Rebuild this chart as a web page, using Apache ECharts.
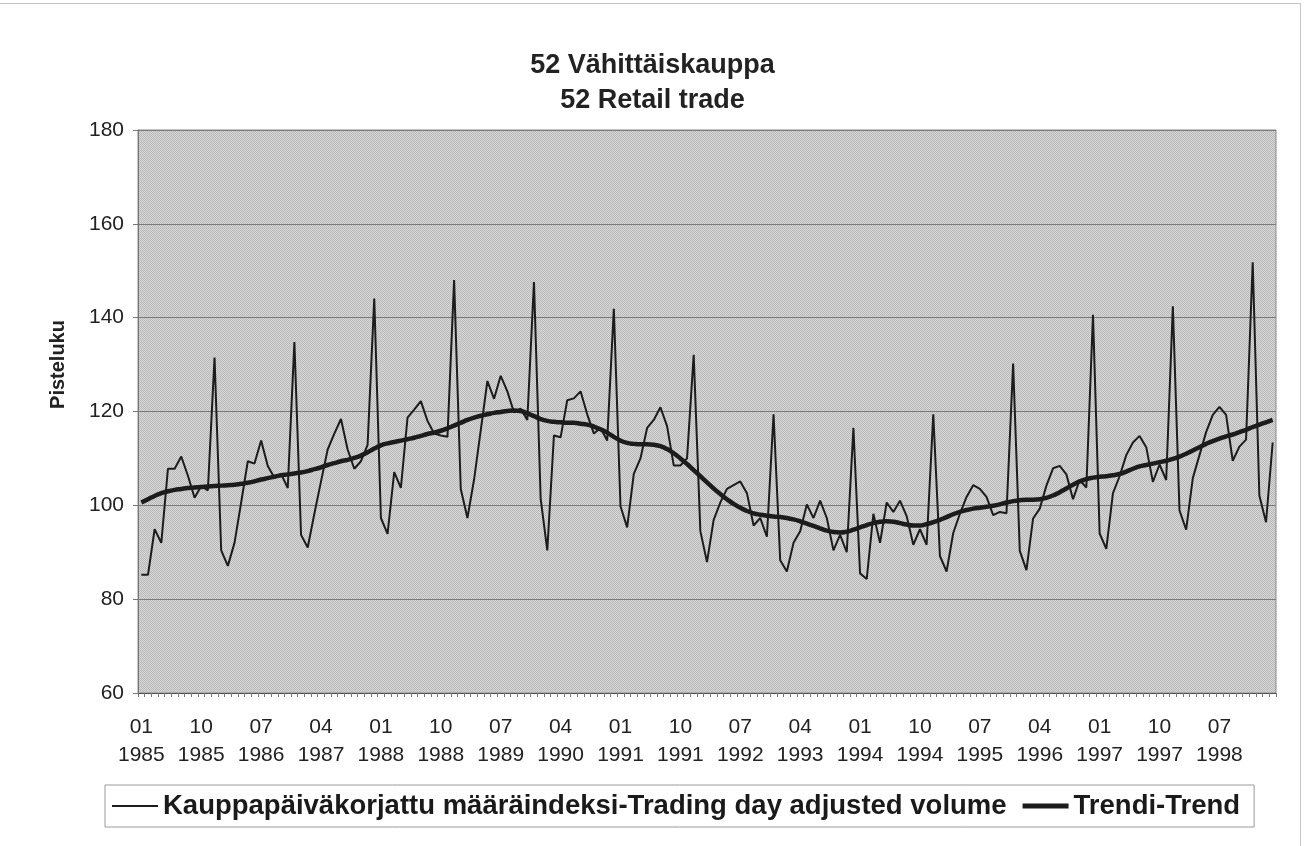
<!DOCTYPE html>
<html>
<head>
<meta charset="utf-8">
<script src="https://cdn.jsdelivr.net/npm/echarts@6/dist/echarts.min.js"></script>
<style>
html,body{margin:0;padding:0;background:#fff;}
#chart{position:absolute;left:0;top:0;width:1305px;height:846px;}
#frame{position:absolute;left:-2px;top:3px;width:1302px;height:860px;border-top:1px solid #c4c4c4;border-right:1px solid #c4c4c4;pointer-events:none;}
</style>
</head>
<body>
<div id="chart"></div>
<div id="frame"></div>
<script>
// Monthly categories Jan 1985 .. Mar 1999
const startYear = 1985;
const monthCount = 171;
const categories = [];
for (let k = 0; k < monthCount; k++) {
  const m = (k % 12) + 1;
  const y = startYear + Math.floor(k / 12);
  categories.push((m < 10 ? '0' + m : '' + m) + '\n' + y);
}

const yTicks = [60, 80, 100, 120, 140, 160, 180];

// Kauppapäiväkorjattu määräindeksi - Trading day adjusted volume
const volume1985 = [85.2, 85.2, 94.9, 92.0, 107.8, 107.8, 110.4, 106.3, 101.6, 104.1, 103.2, 131.5];
const volume1986 = [90.4, 87.1, 92.0, 100.6, 109.4, 108.9, 113.8, 108.4, 105.9, 106.7, 103.7, 134.8];
const volume1987 = [93.7, 91.0, 98.2, 105.1, 111.9, 115.3, 118.4, 111.9, 107.8, 109.4, 112.9, 144.1];
const volume1988 = [97.3, 93.9, 107.1, 103.7, 118.7, 120.4, 122.2, 118.0, 115.3, 114.9, 114.6, 148.0];
const volume1989 = [103.5, 97.3, 105.5, 116.0, 126.5, 122.7, 127.6, 124.3, 119.8, 120.6, 118.2, 147.6];
const volume1990 = [101.5, 90.4, 114.9, 114.5, 122.4, 122.8, 124.3, 119.4, 115.3, 116.5, 113.8, 141.9];
const volume1991 = [99.8, 95.3, 106.7, 110.0, 116.5, 118.2, 120.9, 116.9, 108.5, 108.5, 110.0, 132.1];
const volume1992 = [94.5, 87.9, 96.9, 100.6, 103.5, 104.3, 105.1, 102.6, 95.7, 97.3, 93.3, 119.4];
const volume1993 = [88.3, 85.9, 92.0, 94.5, 100.2, 97.3, 101.0, 97.3, 90.4, 93.7, 90.0, 116.5];
const volume1994 = [85.5, 84.3, 98.2, 92.0, 100.6, 98.6, 101.0, 97.7, 91.6, 94.9, 91.6, 119.4];
const volume1995 = [89.2, 85.9, 94.1, 98.2, 101.8, 104.3, 103.5, 101.8, 97.9, 98.6, 98.3, 130.2];
const volume1996 = [90.3, 86.2, 97.2, 99.3, 104.2, 107.9, 108.4, 106.6, 101.3, 105.4, 103.8, 140.6];
const volume1997 = [94.0, 90.7, 102.6, 106.2, 110.7, 113.4, 114.8, 112.4, 105.0, 108.7, 105.4, 142.4];
const volume1998 = [98.9, 94.8, 105.8, 110.7, 115.6, 119.3, 121.0, 119.3, 109.5, 112.5, 114.0, 151.8];
const volume1999 = [102.1, 96.4, 113.4];

// Trendi - Trend
const trend1985 = [100.6, 101.3, 102.0, 102.6, 103.0, 103.3, 103.5, 103.7, 103.8, 103.9, 104.0, 104.1];
const trend1986 = [104.2, 104.3, 104.4, 104.6, 104.8, 105.1, 105.5, 105.8, 106.1, 106.4, 106.6, 106.8];
const trend1987 = [107.0, 107.3, 107.7, 108.1, 108.6, 109.0, 109.4, 109.7, 110.1, 110.6, 111.3, 112.1];
const trend1988 = [112.8, 113.2, 113.5, 113.8, 114.1, 114.4, 114.8, 115.2, 115.5, 115.9, 116.4, 117.0];
const trend1989 = [117.6, 118.2, 118.7, 119.1, 119.4, 119.7, 119.9, 120.1, 120.2, 120.1, 119.6, 119.0];
const trend1990 = [118.4, 118.0, 117.8, 117.7, 117.6, 117.6, 117.4, 117.2, 116.8, 116.2, 115.5, 114.6];
const trend1991 = [113.8, 113.3, 113.1, 113.0, 113.0, 112.9, 112.6, 112.0, 111.1, 110.0, 108.8, 107.5];
const trend1992 = [106.2, 104.9, 103.6, 102.4, 101.3, 100.3, 99.5, 98.8, 98.3, 98.0, 97.8, 97.6];
const trend1993 = [97.5, 97.3, 97.0, 96.6, 96.1, 95.6, 95.1, 94.6, 94.3, 94.2, 94.4, 94.8];
const trend1994 = [95.3, 95.8, 96.2, 96.5, 96.6, 96.5, 96.2, 95.9, 95.7, 95.7, 96.0, 96.4];
const trend1995 = [96.9, 97.5, 98.1, 98.6, 99.0, 99.3, 99.5, 99.7, 99.9, 100.2, 100.6, 100.9];
const trend1996 = [101.1, 101.2, 101.2, 101.3, 101.6, 102.1, 102.8, 103.6, 104.4, 105.1, 105.6, 105.9];
const trend1997 = [106.1, 106.2, 106.4, 106.7, 107.2, 107.8, 108.3, 108.6, 108.9, 109.2, 109.5, 109.9];
const trend1998 = [110.4, 111.0, 111.7, 112.4, 113.1, 113.7, 114.2, 114.7, 115.1, 115.6, 116.1, 116.7];
const trend1999 = [117.2, 117.7, 118.2];

const volume = [].concat(volume1985, volume1986, volume1987, volume1988, volume1989, volume1990,
  volume1991, volume1992, volume1993, volume1994, volume1995, volume1996, volume1997, volume1998, volume1999);
const trend = [].concat(trend1985, trend1986, trend1987, trend1988, trend1989, trend1990,
  trend1991, trend1992, trend1993, trend1994, trend1995, trend1996, trend1997, trend1998, trend1999);

const seriesNames = ['Kauppapäiväkorjattu määräindeksi-Trading day adjusted volume', 'Trendi-Trend'];

// dotted grey plot background
const pat = document.createElement('canvas');
pat.width = 2; pat.height = 2;
const pc = pat.getContext('2d');
pc.fillStyle = '#d6d6d6'; pc.fillRect(0, 0, 2, 2);
pc.fillStyle = '#bababa'; pc.fillRect(0, 0, 1, 1); pc.fillRect(1, 1, 1, 1);

const FONT = '"Liberation Sans", Arial, Helvetica, sans-serif';
const chart = echarts.init(document.getElementById('chart'), null, {renderer: 'canvas'});
chart.setOption({
  animation: false,
  backgroundColor: '#ffffff',
  textStyle: {fontFamily: FONT, color: '#1e1e1e'},
  title: {
    text: '52 Vähittäiskauppa\n52 Retail trade',
    left: 'center',
    top: 43,
    textStyle: {fontFamily: FONT, fontSize: 27, fontWeight: 'bold', color: '#222', lineHeight: 35}
  },
  legend: {
    left: 105,
    top: 785,
    width: 1180,
    padding: [7, 14, 7, 7],
    itemGap: 16,
    itemWidth: 46,
    itemHeight: 14,
    borderColor: '#9a9a9a',
    borderWidth: 1,
    backgroundColor: '#ffffff',
    textStyle: {fontFamily: FONT, fontSize: 27.5, fontWeight: 'bold', color: '#1a1a1a', lineHeight: 28},
    data: [
      {name: seriesNames[0], icon: 'path://M0,0L0,14M0,6.1H46V7.9H0Z'},
      {name: seriesNames[1], icon: 'path://M0,0L0,14M0,4.6H46V9.4H0Z'}
    ]
  },
  grid: {
    left: 138, right: 29, top: 130, bottom: 153,
    show: true,
    backgroundColor: {image: pat, repeat: 'repeat'},
    borderColor: '#8a8a8a',
    borderWidth: 1,
    containLabel: false
  },
  xAxis: {
    type: 'category',
    data: categories,
    boundaryGap: true,
    axisLine: {lineStyle: {color: '#555', width: 1}},
    axisTick: {show: true, interval: 0, length: 4, lineStyle: {color: '#777'}},
    axisLabel: {interval: 8, fontFamily: FONT, fontSize: 21, color: '#222', lineHeight: 28, margin: 20},
    splitLine: {show: false}
  },
  yAxis: {
    type: 'value',
    min: yTicks[0], max: yTicks[yTicks.length - 1], interval: 20,
    name: 'Pisteluku',
    nameLocation: 'middle',
    nameRotate: 90,
    nameGap: 70,
    nameTextStyle: {fontFamily: FONT, fontSize: 20, fontWeight: 'bold', color: '#222', padding: [0, 0, 0, 94]},
    axisLine: {show: true, lineStyle: {color: '#777'}},
    axisTick: {show: true, length: 5, lineStyle: {color: '#777'}},
    axisLabel: {fontFamily: FONT, fontSize: 21, color: '#222', margin: 14},
    splitLine: {show: true, lineStyle: {color: '#7a7a7a', width: 1}}
  },
  series: [
    {
      name: seriesNames[0], type: 'line', data: volume,
      symbol: 'none', z: 3,
      lineStyle: {color: '#1c1c1c', width: 2},
      itemStyle: {color: '#1c1c1c'}
    },
    {
      name: seriesNames[1], type: 'line', data: trend,
      symbol: 'none', smooth: true, z: 4,
      lineStyle: {color: '#1c1c1c', width: 4.5},
      itemStyle: {color: '#1c1c1c'}
    }
  ]
});
</script>
</body>
</html>
